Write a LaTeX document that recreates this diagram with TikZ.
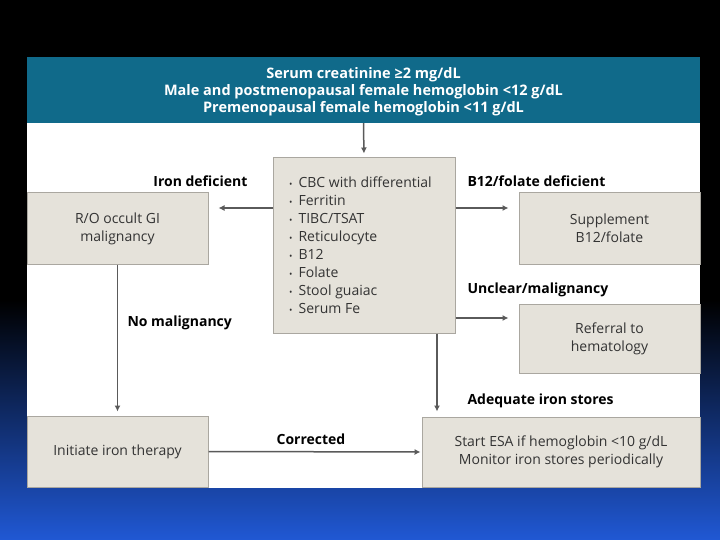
\documentclass[tikz,border=0pt]{standalone}
\usepackage{fontspec}
\setmainfont{Open Sans}
\usetikzlibrary{arrows.meta}
\definecolor{headteal}{RGB}{16,106,138}
\definecolor{boxfill}{RGB}{229,226,218}
\definecolor{boxline}{RGB}{170,167,160}
\definecolor{lineg}{RGB}{90,90,90}
\definecolor{slideblue}{RGB}{32,88,212}
\newcommand{\blt}{{\fontsize{9}{9}\selectfont•}\hspace{6pt}}

\tikzset{
  box/.style={draw=boxline, line width=1pt, fill=boxfill, align=center,
    text=black!80, font=\fontsize{14}{18}\selectfont, inner sep=0pt},
  lbl/.style={font=\bfseries\fontsize{14}{17}\selectfont, text=black},
  arr/.style={draw=lineg, line width=1.5pt, -{Latex[length=6pt,width=6pt]}}
}

\begin{document}
\begin{tikzpicture}[x=1pt,y=-1pt]
        % slide background
        \fill[black] (0,0) rectangle (720,540);
        \shade[top color=black, bottom color=slideblue] (0,300) rectangle (720,540);
        \fill[white] (27,57) rectangle (700,488);
        \useasboundingbox (0,0) rectangle (720,540);

        \node[fill=headteal, minimum width=673pt, minimum height=66pt, inner sep=0pt](top) at (363.5,90) {};
        \node[align=center, text=white, font=\bfseries\fontsize{14.5}{17}\selectfont](toptext) at (363.5,92)
          {Serum creatinine ≥2 mg/dL\\Male and postmenopausal female hemoglobin <12 g/dL\\Premenopausal female hemoglobin <11 g/dL};

        \node[box, minimum width=182pt, minimum height=175pt](tests) at (364,245.5) {};
        \node[align=left, anchor=west, text=black!80, font=\fontsize{14}{18}\selectfont, inner sep=0pt](list) at (289,245.5)
          {\blt CBC with differential\\\blt Ferritin\\\blt TIBC/TSAT\\\blt Reticulocyte\\\blt B12\\\blt Folate\\\blt Stool guaiac\\\blt Serum Fe};

        \node[box, minimum width=181pt, minimum height=71pt](ro) at (117.5,228.5) {R/O occult GI\\malignancy};
        \node[box, minimum width=181pt, minimum height=71pt](supp) at (609.5,228.5) {Supplement\\B12/folate};
        \node[box, minimum width=181pt, minimum height=69pt](refer) at (609.5,338.5) {Referral to\\hematology};
        \node[box, minimum width=181pt, minimum height=71pt](iron) at (117.5,451.5) {Initiate iron therapy};
        \node[box, minimum width=278pt, minimum height=70pt](esa) at (561,452) {Start ESA if hemoglobin <10 g/dL\\Monitor iron stores periodically};

        \node[lbl, anchor=east](irondef) at (251,181) {Iron deficient};
        \node[lbl, anchor=west](b12def) at (464,181) {B12/folate deficient};
        \node[lbl, anchor=west](unclear) at (464,290) {Unclear/malignancy};
        \node[lbl, anchor=west](nomal) at (124,323) {No malignancy};
        \node[lbl, anchor=west](adequate) at (464,401) {Adequate iron stores};
        \node[lbl](corrected) at (311,439) {Corrected};

        \draw[arr, shorten >=4pt](top.south) -- (tests.north);
        \draw[arr, shorten >=10pt]([yshift=37.5pt]tests.west) -- ([yshift=37.5pt]tests.west -| ro.east);
        \draw[arr, shorten >=10pt]([yshift=37.5pt]tests.east) -- ([yshift=37.5pt]tests.east -| supp.west);
        \draw[arr, shorten >=10pt]([yshift=-72.5pt]tests.east) -- ([yshift=-72.5pt]tests.east -| refer.west);
        \draw[arr, shorten >=4pt](ro.south) -- (iron.north);
        \draw[arr, shorten >=5pt]([xshift=73pt]tests.south) -- ([xshift=73pt]tests.south |- esa.north);
        \draw[arr, shorten >=1pt](iron.east) -- (esa.west);
        \end{tikzpicture}
\end{document}
